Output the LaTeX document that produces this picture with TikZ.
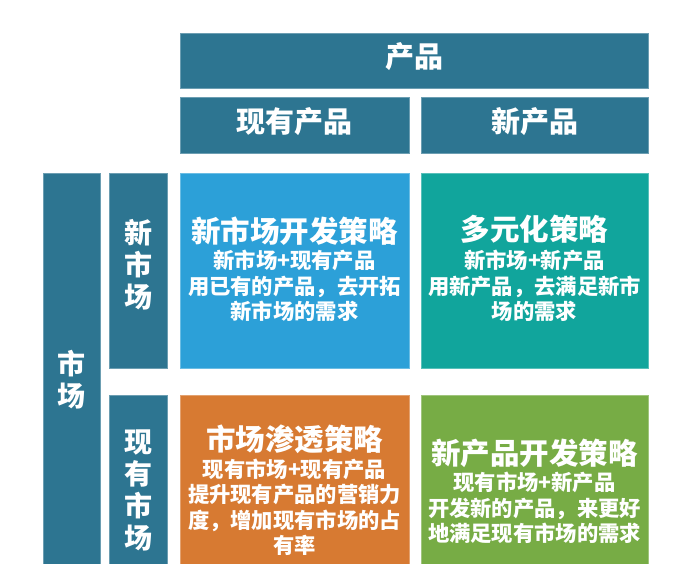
\documentclass[tikz,border=0pt]{standalone}
\usepackage{fontspec}
\setmainfont{Noto Sans CJK SC}
\definecolor{hdrc}{HTML}{2D7591}
\definecolor{bluec}{HTML}{2CA0D8}
\definecolor{tealc}{HTML}{11A59C}
\definecolor{orangec}{HTML}{D77A32}
\definecolor{greenc}{HTML}{77AC45}
\tikzset{
  box/.style={draw=#1!70!white, line width=0.8pt, fill=#1, inner sep=0pt, anchor=center},
  hdrtext/.style={text=white, font=\fontsize{29}{32}\selectfont\bfseries, inner sep=0pt},
  vtext/.style={text=white, font=\fontsize{28}{32}\selectfont\bfseries, align=center, inner sep=0pt},
  ttl/.style={text=white, font=\fontsize{29.5}{32}\selectfont\bfseries, inner sep=0pt},
  body/.style={text=white, font=\fontsize{21.3}{25.5}\selectfont\bfseries, align=center, inner sep=0pt},
}
\begin{document}
\begin{tikzpicture}[x=1pt,y=-1pt]
\useasboundingbox (0,0) rectangle (682,564);
\fill[white] (0,0) rectangle (682,564);
% headers
\node[box=hdrc, minimum width=468pt, minimum height=55pt] (top) at (414,60.5) {};
\node[hdrtext] (toptext) at (414,57) {产品};
\node[box=hdrc, minimum width=229pt, minimum height=56pt] (hl) at (294.5,125) {};
\node[hdrtext] (hltext) at (294.5,122) {现有产品};
\node[box=hdrc, minimum width=227pt, minimum height=56pt] (hr) at (534.5,125) {};
\node[hdrtext] (hrtext) at (534.5,122) {新产品};
% left columns
\node[box=hdrc, minimum width=57pt, minimum height=391pt] (mkt) at (71.5,368.5) {};
\node[vtext, text depth=0pt] (mkttext) at (71.5,378) {市\\场};
\node[box=hdrc, minimum width=58pt, minimum height=195pt] (nm) at (138,270.5) {};
\node[vtext] (nmtext) at (138,265) {新\\市\\场};
\node[box=hdrc, minimum width=58pt, minimum height=169pt] (cm) at (138,479.5) {};
\node[vtext] (cmtext) at (138,490) {现\\有\\市\\场};
% cells
\node[box=bluec, minimum width=229pt, minimum height=195pt] (blue) at (294.5,270.5) {};
\node[ttl] (bluet) at (294.5,231) {新市场开发策略};
\node[body] (blueb) at (294.5,286) {新市场+现有产品\\用已有的产品，去开拓\\新市场的需求};
\node[box=tealc, minimum width=227pt, minimum height=195pt] (teal) at (534.5,270.5) {};
\node[ttl] (tealt) at (534.5,229) {多元化策略};
\node[body] (tealb) at (534.5,286) {新市场+新产品\\用新产品，去满足新市\\场的需求};
\node[box=orangec, minimum width=229pt, minimum height=169pt] (orange) at (294.5,479.5) {};
\node[ttl] (oranget) at (294.5,439) {市场渗透策略};
\node[body] (orangeb) at (294.5,507.5) {现有市场+现有产品\\提升现有产品的营销力\\度，增加现有市场的占\\有率};
\node[box=greenc, minimum width=227pt, minimum height=169pt] (green) at (534.5,479.5) {};
\node[ttl] (greent) at (534.5,453) {新产品开发策略};
\node[body] (greenb) at (534.5,508) {现有市场+新产品\\开发新的产品，来更好\\地满足现有市场的需求};
\end{tikzpicture}
\end{document}
